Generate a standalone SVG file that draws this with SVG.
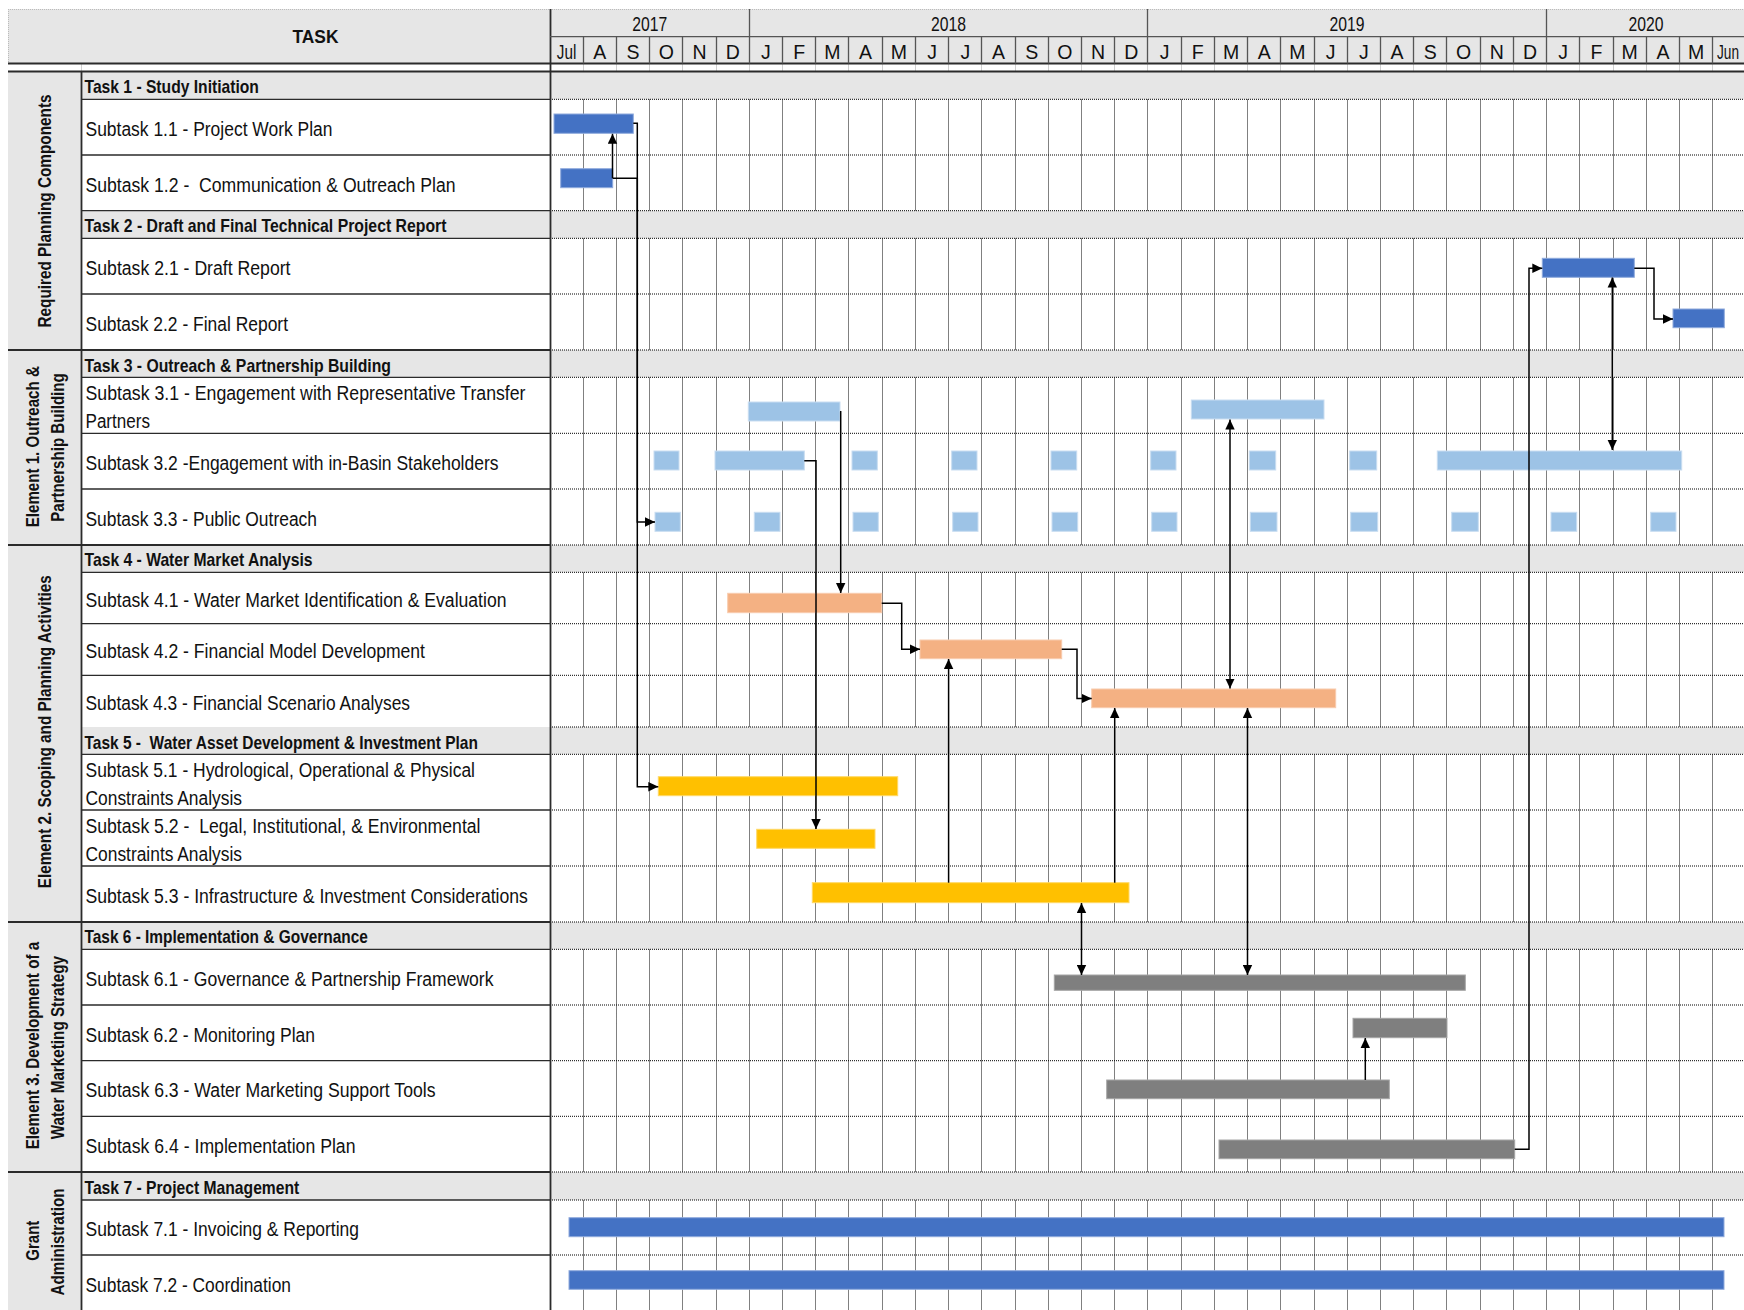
<svg xmlns="http://www.w3.org/2000/svg" width="1744" height="1310" viewBox="0 0 1744 1310">
<defs>
<style>
text{font-family:"Liberation Sans",Arial,Helvetica,sans-serif;fill:#111}
.sub{font-size:19.5px}
.task{font-size:18.5px;font-weight:bold}
.el{font-size:18px;font-weight:bold}
.hdr{font-size:19.5px}
.th{font-size:19px;font-weight:bold}
.grid{stroke:#000;stroke-width:1;stroke-dasharray:1 1;fill:none}
.gap{stroke:#d0d0d0;stroke-width:1;fill:none}
.hl{stroke:#2b2b2b;stroke-width:1.3;fill:none}
.hs{stroke:#555;stroke-width:1.3;fill:none}
.sep{stroke:#2b2b2b;stroke-width:1.8;fill:none}
.trow{fill:#e6e6e6}
.conn{fill:none;stroke:#000;stroke-width:1.5}
.b1{fill:#4472c4;stroke:#8faadc;stroke-width:1}
.b2{fill:#9dc3e6;stroke:#c9ddf1;stroke-width:1}
.b3{fill:#f4b183;stroke:#f8cbad;stroke-width:1}
.b4{fill:#ffc000;stroke:#ffd966;stroke-width:1}
.b5{fill:#7f7f7f;stroke:#a6a6a6;stroke-width:1}
</style>
<marker id="ah" viewBox="0 0 10 10" refX="10" refY="5" markerWidth="10" markerHeight="10" markerUnits="userSpaceOnUse" orient="auto-start-reverse"><path d="M0,0.3 L10,5 L0,9.7 z" fill="#000"/></marker>
</defs>
<rect width="1744" height="1310" fill="#fff"/>

<g id="table">
<rect x="8" y="9" width="1736" height="54.5" fill="#e6e6e6"/>
<path d="M8,9.5 H1744 M8.5,9 V63.5" stroke="#bbb" stroke-width="1" stroke-dasharray="1 1" fill="none"/>
<rect x="8" y="71.5" width="73" height="1238.5" fill="#e6e6e6"/>
<path class="grid" d="M583.5,71.5V1310M616.5,71.5V1310M649.5,71.5V1310M682.5,71.5V1310M716.5,71.5V1310M749.5,71.5V1310M782.5,71.5V1310M815.5,71.5V1310M848.5,71.5V1310M882.5,71.5V1310M915.5,71.5V1310M948.5,71.5V1310M981.5,71.5V1310M1015.5,71.5V1310M1048.5,71.5V1310M1081.5,71.5V1310M1114.5,71.5V1310M1147.5,71.5V1310M1181.5,71.5V1310M1214.5,71.5V1310M1247.5,71.5V1310M1280.5,71.5V1310M1314.5,71.5V1310M1347.5,71.5V1310M1380.5,71.5V1310M1413.5,71.5V1310M1446.5,71.5V1310M1480.5,71.5V1310M1513.5,71.5V1310M1546.5,71.5V1310M1579.5,71.5V1310M1613.5,71.5V1310M1646.5,71.5V1310M1679.5,71.5V1310M1712.5,71.5V1310"/>
<path class="gap" d="M81.5,63.5V71.5M583.5,63.5V71.5M616.5,63.5V71.5M649.5,63.5V71.5M682.5,63.5V71.5M716.5,63.5V71.5M749.5,63.5V71.5M782.5,63.5V71.5M815.5,63.5V71.5M848.5,63.5V71.5M882.5,63.5V71.5M915.5,63.5V71.5M948.5,63.5V71.5M981.5,63.5V71.5M1015.5,63.5V71.5M1048.5,63.5V71.5M1081.5,63.5V71.5M1114.5,63.5V71.5M1147.5,63.5V71.5M1181.5,63.5V71.5M1214.5,63.5V71.5M1247.5,63.5V71.5M1280.5,63.5V71.5M1314.5,63.5V71.5M1347.5,63.5V71.5M1380.5,63.5V71.5M1413.5,63.5V71.5M1446.5,63.5V71.5M1480.5,63.5V71.5M1513.5,63.5V71.5M1546.5,63.5V71.5M1579.5,63.5V71.5M1613.5,63.5V71.5M1646.5,63.5V71.5M1679.5,63.5V71.5M1712.5,63.5V71.5"/>
<rect class="trow" x="81" y="71.5" width="1663" height="27.8"/>
<rect class="trow" x="81" y="210.7" width="1663" height="27.6"/>
<rect class="trow" x="81" y="350" width="1663" height="27.3"/>
<rect class="trow" x="81" y="545" width="1663" height="27.3"/>
<rect class="trow" x="81" y="727" width="1663" height="27.3"/>
<rect class="trow" x="81" y="922" width="1663" height="27.3"/>
<rect class="trow" x="81" y="1172" width="1663" height="28"/>
<path class="grid" d="M550,99.3H1744M550,155H1744M550,210.7H1744M550,238.3H1744M550,294H1744M550,350H1744M550,377.3H1744M550,433.3H1744M550,489H1744M550,545H1744M550,572.3H1744M550,623.7H1744M550,675.3H1744M550,727H1744M550,754.3H1744M550,810H1744M550,866H1744M550,922H1744M550,949.3H1744M550,1005H1744M550,1060.7H1744M550,1116.3H1744M550,1172H1744M550,1200H1744M550,1255H1744"/>
<path class="hl" d="M81,99.3H550M81,155H550M81,210.7H550M81,238.3H550M81,294H550M81,377.3H550M81,433.3H550M81,489H550M81,572.3H550M81,623.7H550M81,675.3H550M81,754.3H550M81,810H550M81,866H550M81,949.3H550M81,1005H550M81,1060.7H550M81,1116.3H550M81,1200H550M81,1255H550"/>
<path class="sep" d="M8,350H550M8,545H550M8,922H550M8,1172H550"/>
<path class="sep" d="M8,63.5H1744M8,71.5H1744M81.5,71.5V1310M550.5,9V1310"/>
<path class="hs" d="M550,36.7H1744M749.5,9V36.7M1147.5,9V36.7M1546.5,9V36.7"/>
<path class="hs" d="M583.5,36.7V63.5M616.5,36.7V63.5M649.5,36.7V63.5M682.5,36.7V63.5M716.5,36.7V63.5M749.5,36.7V63.5M782.5,36.7V63.5M815.5,36.7V63.5M848.5,36.7V63.5M882.5,36.7V63.5M915.5,36.7V63.5M948.5,36.7V63.5M981.5,36.7V63.5M1015.5,36.7V63.5M1048.5,36.7V63.5M1081.5,36.7V63.5M1114.5,36.7V63.5M1147.5,36.7V63.5M1181.5,36.7V63.5M1214.5,36.7V63.5M1247.5,36.7V63.5M1280.5,36.7V63.5M1314.5,36.7V63.5M1347.5,36.7V63.5M1380.5,36.7V63.5M1413.5,36.7V63.5M1446.5,36.7V63.5M1480.5,36.7V63.5M1513.5,36.7V63.5M1546.5,36.7V63.5M1579.5,36.7V63.5M1613.5,36.7V63.5M1646.5,36.7V63.5M1679.5,36.7V63.5M1712.5,36.7V63.5"/>
</g>

<g id="header">
<text class="th" x="315.5" y="42.7" text-anchor="middle" textLength="46" lengthAdjust="spacingAndGlyphs">TASK</text>
<g class="hdr" text-anchor="middle">
<text x="649.8" y="30.7" textLength="35" lengthAdjust="spacingAndGlyphs">2017</text>
<text x="948.5" y="30.7" textLength="35" lengthAdjust="spacingAndGlyphs">2018</text>
<text x="1347" y="30.7" textLength="35" lengthAdjust="spacingAndGlyphs">2019</text>
<text x="1646" y="30.7" textLength="35" lengthAdjust="spacingAndGlyphs">2020</text>
<text x="566.6" y="59.3" textLength="19.5" lengthAdjust="spacingAndGlyphs">Jul</text>
<text x="599.8" y="59.3">A</text>
<text x="633.1" y="59.3">S</text>
<text x="666.3" y="59.3">O</text>
<text x="699.5" y="59.3">N</text>
<text x="732.7" y="59.3">D</text>
<text x="765.9" y="59.3">J</text>
<text x="799.1" y="59.3">F</text>
<text x="832.4" y="59.3">M</text>
<text x="865.6" y="59.3">A</text>
<text x="898.8" y="59.3">M</text>
<text x="932" y="59.3">J</text>
<text x="965.3" y="59.3">J</text>
<text x="998.5" y="59.3">A</text>
<text x="1031.7" y="59.3">S</text>
<text x="1064.9" y="59.3">O</text>
<text x="1098.1" y="59.3">N</text>
<text x="1131.3" y="59.3">D</text>
<text x="1164.6" y="59.3">J</text>
<text x="1197.8" y="59.3">F</text>
<text x="1231" y="59.3">M</text>
<text x="1264.2" y="59.3">A</text>
<text x="1297.4" y="59.3">M</text>
<text x="1330.7" y="59.3">J</text>
<text x="1363.9" y="59.3">J</text>
<text x="1397.1" y="59.3">A</text>
<text x="1430.3" y="59.3">S</text>
<text x="1463.5" y="59.3">O</text>
<text x="1496.8" y="59.3">N</text>
<text x="1530" y="59.3">D</text>
<text x="1563.2" y="59.3">J</text>
<text x="1596.4" y="59.3">F</text>
<text x="1629.6" y="59.3">M</text>
<text x="1662.9" y="59.3">A</text>
<text x="1696.1" y="59.3">M</text>
</g>
<text class="hdr" x="1717" y="59.3" font-size="17" textLength="22" lengthAdjust="spacingAndGlyphs">Jun</text>
</g>

<g id="element-required">
<text class="el" transform="translate(51,211) rotate(-90)" text-anchor="middle" textLength="233" lengthAdjust="spacingAndGlyphs">Required Planning Components</text>
</g>
<g id="element-1">
<text class="el" transform="translate(38.6,446.7) rotate(-90)" text-anchor="middle" textLength="161" lengthAdjust="spacingAndGlyphs">Element 1. Outreach &amp;</text>
<text class="el" transform="translate(63.6,447.5) rotate(-90)" text-anchor="middle" textLength="148.5" lengthAdjust="spacingAndGlyphs">Partnership Building</text>
</g>
<g id="element-2">
<text class="el" transform="translate(51,731.7) rotate(-90)" text-anchor="middle" textLength="313" lengthAdjust="spacingAndGlyphs">Element 2. Scoping and Planning Activities</text>
</g>
<g id="element-3">
<text class="el" transform="translate(38.6,1045.5) rotate(-90)" text-anchor="middle" textLength="207.6" lengthAdjust="spacingAndGlyphs">Element 3. Development of a</text>
<text class="el" transform="translate(63.6,1047.7) rotate(-90)" text-anchor="middle" textLength="183.3" lengthAdjust="spacingAndGlyphs">Water Marketing Strategy</text>
</g>
<g id="element-grant">
<text class="el" transform="translate(38.6,1240.7) rotate(-90)" text-anchor="middle" textLength="40" lengthAdjust="spacingAndGlyphs">Grant</text>
<text class="el" transform="translate(63.6,1242) rotate(-90)" text-anchor="middle" textLength="107" lengthAdjust="spacingAndGlyphs">Administration</text>
</g>

<g id="task-1"><text class="task" x="84.5" y="93" textLength="174.4" lengthAdjust="spacingAndGlyphs">Task 1 - Study Initiation</text></g>
<g id="subtask-1-1"><text class="sub" x="85.5" y="135.8" textLength="247" lengthAdjust="spacingAndGlyphs">Subtask 1.1 - Project Work Plan</text>
<rect class="b1" x="554" y="114" width="79.3" height="19.3"/></g>
<g id="subtask-1-2"><text class="sub" x="85.5" y="191.5" xml:space="preserve" textLength="370" lengthAdjust="spacingAndGlyphs">Subtask 1.2 -  Communication &amp; Outreach Plan</text>
<rect class="b1" x="560.7" y="168.7" width="52" height="19"/></g>

<g id="task-2"><text class="task" x="84.5" y="232" textLength="362" lengthAdjust="spacingAndGlyphs">Task 2 - Draft and Final Technical Project Report</text></g>
<g id="subtask-2-1"><text class="sub" x="85.5" y="275" textLength="205" lengthAdjust="spacingAndGlyphs">Subtask 2.1 - Draft Report</text>
<rect class="b1" x="1542.3" y="258.3" width="92" height="19"/></g>
<g id="subtask-2-2"><text class="sub" x="85.5" y="330.7" textLength="202.5" lengthAdjust="spacingAndGlyphs">Subtask 2.2 - Final Report</text>
<rect class="b1" x="1673" y="309" width="51.3" height="18.7"/></g>

<g id="task-3"><text class="task" x="84.5" y="371.5" textLength="306.5" lengthAdjust="spacingAndGlyphs">Task 3 - Outreach &amp; Partnership Building</text></g>
<g id="subtask-3-1"><text class="sub" x="85.5" y="400" textLength="440" lengthAdjust="spacingAndGlyphs">Subtask 3.1 - Engagement with Representative Transfer</text>
<text class="sub" x="85.5" y="427.7" textLength="64.5" lengthAdjust="spacingAndGlyphs">Partners</text>
<rect class="b2" x="748.3" y="402" width="91.7" height="19"/>
<rect class="b2" x="1191.3" y="400" width="132.7" height="19"/></g>
<g id="subtask-3-2"><text class="sub" x="85.5" y="469.8" textLength="413" lengthAdjust="spacingAndGlyphs">Subtask 3.2 -Engagement with in-Basin Stakeholders</text>
<rect class="b2" x="654" y="451" width="25" height="19"/>
<rect class="b2" x="715" y="451" width="89.3" height="19"/>
<rect class="b2" x="852" y="451" width="25.3" height="19"/>
<rect class="b2" x="951.7" y="451" width="25.3" height="19"/>
<rect class="b2" x="1051" y="451" width="25.7" height="19"/>
<rect class="b2" x="1150.7" y="451" width="25.3" height="19"/>
<rect class="b2" x="1249.3" y="451" width="26.4" height="19"/>
<rect class="b2" x="1349.7" y="451" width="27" height="19"/>
<rect class="b2" x="1437.3" y="451" width="244.4" height="19"/></g>
<g id="subtask-3-3"><text class="sub" x="85.5" y="525.7" textLength="231.5" lengthAdjust="spacingAndGlyphs">Subtask 3.3 - Public Outreach</text>
<rect class="b2" x="655" y="512.3" width="25.3" height="19"/>
<rect class="b2" x="754.3" y="512.3" width="25.7" height="19"/>
<rect class="b2" x="853" y="512.3" width="25.3" height="19"/>
<rect class="b2" x="952.7" y="512.3" width="25.3" height="19"/>
<rect class="b2" x="1052" y="512.3" width="25.7" height="19"/>
<rect class="b2" x="1151.7" y="512.3" width="25.3" height="19"/>
<rect class="b2" x="1250.3" y="512.3" width="26.7" height="19"/>
<rect class="b2" x="1350.7" y="512.3" width="27" height="19"/>
<rect class="b2" x="1451.7" y="512.3" width="26.6" height="19"/>
<rect class="b2" x="1551" y="512.3" width="25.7" height="19"/>
<rect class="b2" x="1650.7" y="512.3" width="25.3" height="19"/></g>

<g id="task-4"><text class="task" x="84.5" y="566.3" textLength="228" lengthAdjust="spacingAndGlyphs">Task 4 - Water Market Analysis</text></g>
<g id="subtask-4-1"><text class="sub" x="85.5" y="606.7" textLength="421" lengthAdjust="spacingAndGlyphs">Subtask 4.1 - Water Market Identification &amp; Evaluation</text>
<rect class="b3" x="727.7" y="593.3" width="154" height="19.4"/></g>
<g id="subtask-4-2"><text class="sub" x="85.5" y="658.3" textLength="339.5" lengthAdjust="spacingAndGlyphs">Subtask 4.2 - Financial Model Development</text>
<rect class="b3" x="920" y="640" width="141.7" height="18.7"/></g>
<g id="subtask-4-3"><text class="sub" x="85.5" y="709.8" textLength="324.5" lengthAdjust="spacingAndGlyphs">Subtask 4.3 - Financial Scenario Analyses</text>
<rect class="b3" x="1091.7" y="689" width="244" height="18.7"/></g>

<g id="task-5"><text class="task" x="84.5" y="748.5" xml:space="preserve" textLength="393.4" lengthAdjust="spacingAndGlyphs">Task 5 -  Water Asset Development &amp; Investment Plan</text></g>
<g id="subtask-5-1"><text class="sub" x="85.5" y="776.7" textLength="389.5" lengthAdjust="spacingAndGlyphs">Subtask 5.1 - Hydrological, Operational &amp; Physical</text>
<text class="sub" x="85.5" y="805" textLength="156.5" lengthAdjust="spacingAndGlyphs">Constraints Analysis</text>
<rect class="b4" x="658.3" y="776.7" width="239.4" height="19"/></g>
<g id="subtask-5-2"><text class="sub" x="85.5" y="832.7" xml:space="preserve" textLength="395" lengthAdjust="spacingAndGlyphs">Subtask 5.2 -  Legal, Institutional, &amp; Environmental</text>
<text class="sub" x="85.5" y="860.7" textLength="156.5" lengthAdjust="spacingAndGlyphs">Constraints Analysis</text>
<rect class="b4" x="756.7" y="829.3" width="118.3" height="19"/></g>
<g id="subtask-5-3"><text class="sub" x="85.5" y="902.5" textLength="442.4" lengthAdjust="spacingAndGlyphs">Subtask 5.3 - Infrastructure &amp; Investment Considerations</text>
<rect class="b4" x="812.3" y="882.7" width="316.7" height="20"/></g>

<g id="task-6"><text class="task" x="84.5" y="943.3" textLength="283.4" lengthAdjust="spacingAndGlyphs">Task 6 - Implementation &amp; Governance</text></g>
<g id="subtask-6-1"><text class="sub" x="85.5" y="986" textLength="408" lengthAdjust="spacingAndGlyphs">Subtask 6.1 - Governance &amp; Partnership Framework</text>
<rect class="b5" x="1054.3" y="975" width="411" height="15.3"/></g>
<g id="subtask-6-2"><text class="sub" x="85.5" y="1041.6" textLength="229.5" lengthAdjust="spacingAndGlyphs">Subtask 6.2 - Monitoring Plan</text>
<rect class="b5" x="1353" y="1018.3" width="94" height="19.4"/></g>
<g id="subtask-6-3"><text class="sub" x="85.5" y="1097.2" textLength="350" lengthAdjust="spacingAndGlyphs">Subtask 6.3 - Water Marketing Support Tools</text>
<rect class="b5" x="1106.7" y="1080" width="282.6" height="18.7"/></g>
<g id="subtask-6-4"><text class="sub" x="85.5" y="1152.8" textLength="270" lengthAdjust="spacingAndGlyphs">Subtask 6.4 - Implementation Plan</text>
<rect class="b5" x="1219" y="1140" width="295.7" height="18.7"/></g>

<g id="task-7"><text class="task" x="84.5" y="1193.5" textLength="214.8" lengthAdjust="spacingAndGlyphs">Task 7 - Project Management</text></g>
<g id="subtask-7-1"><text class="sub" x="85.5" y="1236.2" textLength="273.5" lengthAdjust="spacingAndGlyphs">Subtask 7.1 - Invoicing &amp; Reporting</text>
<rect class="b1" x="569" y="1217.7" width="1155" height="19"/></g>
<g id="subtask-7-2"><text class="sub" x="85.5" y="1291.7" textLength="205.5" lengthAdjust="spacingAndGlyphs">Subtask 7.2 - Coordination</text>
<rect class="b1" x="569" y="1270.7" width="1155" height="18.6"/></g>

<g id="connectors">
<path class="conn" d="M612.5,178.3 V133.8" marker-end="url(#ah)"/>
<path class="conn" d="M612.7,178.3 H637.3 V522 H655" marker-end="url(#ah)"/>
<path class="conn" d="M633.3,123.3 H637.3 V786.7 H658.3" marker-end="url(#ah)"/>
<path class="conn" d="M840,411.7 H840.7 V593" marker-end="url(#ah)"/>
<path class="conn" d="M804.3,460.7 H816 V829" marker-end="url(#ah)"/>
<path class="conn" d="M881.7,603.3 H901.7 V649.3 H920" marker-end="url(#ah)"/>
<path class="conn" d="M948.6,882.7 V659" marker-end="url(#ah)"/>
<path class="conn" d="M1061.7,649.3 H1077 V698.5 H1091.7" marker-end="url(#ah)"/>
<path class="conn" d="M1114.7,882.7 V708" marker-end="url(#ah)"/>
<path class="conn" d="M1230,419.5 V688.5" marker-start="url(#ah)" marker-end="url(#ah)"/>
<path class="conn" d="M1247.5,708 V975" marker-start="url(#ah)" marker-end="url(#ah)"/>
<path class="conn" d="M1081.5,903 V975" marker-start="url(#ah)" marker-end="url(#ah)"/>
<path class="conn" d="M1365.3,1080 V1038" marker-end="url(#ah)"/>
<path class="conn" d="M1514.7,1149.3 H1529 V268.3 H1542.3" marker-end="url(#ah)"/>
<path class="conn" d="M1634.3,268.3 H1654 V319 H1673" marker-end="url(#ah)"/>
<path class="conn" d="M1612.3,277.5 V450" marker-start="url(#ah)" marker-end="url(#ah)"/>
</g>
</svg>
